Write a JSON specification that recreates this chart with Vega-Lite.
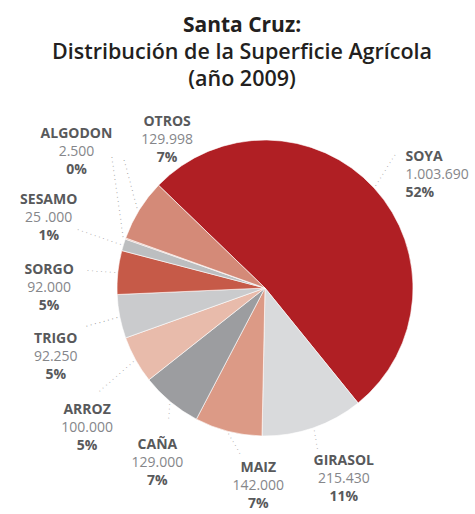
{
  "$schema": "https://vega.github.io/schema/vega-lite/v6.json",
  "width": 360,
  "height": 360,
  "autosize": {"type": "none"},
  "padding": {"left": 85, "top": 108, "right": 30, "bottom": 46},
  "title": {
    "text": "Santa Cruz:",
    "subtitle": ["Distribución de la Superficie Agrícola", "(año 2009)"],
    "anchor": "middle",
    "dx": -23,
    "font": "Open Sans",
    "fontSize": 21,
    "fontWeight": "bold",
    "color": "#231f20",
    "subtitleFont": "Open Sans",
    "subtitleFontSize": 21.5,
    "subtitleFontWeight": 600,
    "subtitleColor": "#231f20",
    "subtitleLineHeight": 27,
    "subtitlePadding": 6,
    "offset": 18
  },
  "params": [
    {"name": "lx", "value": {"SOYA": -7, "GIRASOL": 14, "MAIZ": 43, "CAÑA": 20, "ARROZ": -3, "TRIGO": -13, "SORGO": -17, "SESAMO": -25, "ALGODON": 0, "OTROS": 72}},
    {"name": "ly", "value": {"SOYA": 22, "GIRASOL": 2, "MAIZ": 4, "CAÑA": 21, "ARROZ": 43, "TRIGO": 30, "SORGO": 21, "SESAMO": -12, "ALGODON": -69, "OTROS": -42}},
    {"name": "la", "value": {"SOYA": -58, "GIRASOL": 80, "MAIZ": 60, "CAÑA": 94, "ARROZ": 139, "TRIGO": 164, "SORGO": 184, "SESAMO": 199, "ALGODON": 262, "OTROS": 255}},
    {"name": "ln", "value": {"SOYA": 9, "GIRASOL": 5, "MAIZ": 6, "CAÑA": 4, "ARROZ": 11, "TRIGO": 8, "SORGO": 7, "SESAMO": 11, "ALGODON": 19, "OTROS": 12}}
  ],
  "data": {
    "values": [
      {"cultivo": "SOYA", "superficie": 1003690, "texto": "1.003.690", "porcentaje": "52%"},
      {"cultivo": "GIRASOL", "superficie": 215430, "texto": "215.430", "porcentaje": "11%"},
      {"cultivo": "MAIZ", "superficie": 142000, "texto": "142.000", "porcentaje": "7%"},
      {"cultivo": "CAÑA", "superficie": 129000, "texto": "129.000", "porcentaje": "7%"},
      {"cultivo": "ARROZ", "superficie": 100000, "texto": "100.000", "porcentaje": "5%"},
      {"cultivo": "TRIGO", "superficie": 92250, "texto": "92.250", "porcentaje": "5%"},
      {"cultivo": "SORGO", "superficie": 92000, "texto": "92.000", "porcentaje": "5%"},
      {"cultivo": "SESAMO", "superficie": 25000, "texto": "25 .000", "porcentaje": "1%"},
      {"cultivo": "ALGODON", "superficie": 2500, "texto": "2.500", "porcentaje": "0%"},
      {"cultivo": "OTROS", "superficie": 129998, "texto": "129.998", "porcentaje": "7%"}
    ]
  },
  "transform": [{"window": [{"op": "row_number", "as": "orden"}]}],
  "encoding": {
    "theta": {"field": "superficie", "type": "quantitative", "stack": true, "scale": {"range": [-0.803, 5.480]}},
    "order": {"field": "orden", "type": "quantitative"}
  },
  "layer": [
    {
      "mark": {"type": "arc", "outerRadius": 148, "stroke": "#ffffff", "strokeWidth": 0.6},
      "encoding": {
        "color": {
          "field": "cultivo",
          "type": "nominal",
          "scale": {
            "domain": ["SOYA", "GIRASOL", "MAIZ", "CAÑA", "ARROZ", "TRIGO", "SORGO", "SESAMO", "ALGODON", "OTROS"],
            "range": ["#B01F24", "#D9DADC", "#DC9A86", "#9C9DA0", "#E8BBAB", "#CACBCD", "#C65A48", "#BCBEC0", "#E2A898", "#D48A78"]
          },
          "legend": null
        }
      }
    },
    {
      "mark": {
        "type": "text",
        "radius": 150,
        "font": "DejaVu Sans",
        "fontSize": 7,
        "fill": "#8a8a8a",
        "align": "left",
        "baseline": "middle",
        "angle": {"expr": "la[datum.cultivo]"},
        "text": {"expr": "pad('', ln[datum.cultivo], '· ')"}
      }
    },
    {
      "mark": {
        "type": "text",
        "radius": 200,
        "font": "Open Sans",
        "fontSize": 14,
        "fontWeight": "bold",
        "fill": "#58595b",
        "baseline": "middle",
        "align": {"expr": "datum.cultivo === 'SOYA' ? 'left' : 'center'"},
        "dx": {"expr": "lx[datum.cultivo]"},
        "dy": {"expr": "ly[datum.cultivo] - 18"}
      },
      "encoding": {"text": {"field": "cultivo"}}
    },
    {
      "mark": {
        "type": "text",
        "radius": 200,
        "font": "Open Sans",
        "fontSize": 14,
        "fill": "#85868a",
        "baseline": "middle",
        "align": {"expr": "datum.cultivo === 'SOYA' ? 'left' : 'center'"},
        "dx": {"expr": "lx[datum.cultivo]"},
        "dy": {"expr": "ly[datum.cultivo]"}
      },
      "encoding": {"text": {"field": "texto"}}
    },
    {
      "mark": {
        "type": "text",
        "radius": 200,
        "font": "Open Sans",
        "fontSize": 14,
        "fontWeight": "bold",
        "fill": "#58595b",
        "baseline": "middle",
        "align": {"expr": "datum.cultivo === 'SOYA' ? 'left' : 'center'"},
        "dx": {"expr": "lx[datum.cultivo]"},
        "dy": {"expr": "ly[datum.cultivo] + 18"}
      },
      "encoding": {"text": {"field": "porcentaje"}}
    }
  ],
  "config": {"view": {"stroke": null}}
}
